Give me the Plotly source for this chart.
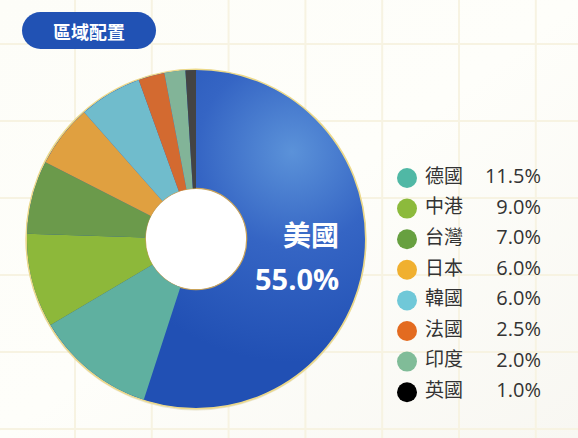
import base64
import plotly.graph_objects as go

# ---- data ----
regions = ["美國", "德國", "中港", "台灣", "日本", "韓國", "法國", "印度", "英國"]
shares = [55.0, 11.5, 9.0, 7.0, 6.0, 6.0, 2.5, 2.0, 1.0]
slice_colors = ["rgba(34,80,180,0)", "#5fb0a0", "#8db83a", "#6b9a4b", "#e0a040",
                "#70bccc", "#d36a30", "#82b498", "#444444"]
legend_colors = ["#50b8a5", "#8cba3c", "#67a040", "#f0b030", "#70c8d8",
                 "#e36b20", "#80bc98", "#000000"]
title_text = "區域配置"

W, H = 578, 438
cx, cy, R = 196, 239, 169
hole = 0.30

# ---- decorative background (grid, gradient disc, hole, button) ----
grid = ""
for i in range(8):
    gx = 75 + i * 76.8
    grid += f'<line x1="{gx:.1f}" y1="0" x2="{gx:.1f}" y2="{H}" stroke="#f7f3e2" stroke-width="2"/>'
for i in range(6):
    gy = 44 + i * 77
    grid += f'<line x1="0" y1="{gy}" x2="{W}" y2="{gy}" stroke="#f7f3e2" stroke-width="2"/>'
svg = f'''<svg xmlns="http://www.w3.org/2000/svg" width="{W}" height="{H}" viewBox="0 0 {W} {H}">
<defs>
<linearGradient id="bg" x1="0" y1="0" x2="1" y2="1">
<stop offset="0" stop-color="#fdfdf8"/><stop offset="0.5" stop-color="#fefefa"/><stop offset="1" stop-color="#f8f7f2"/>
</linearGradient>
<radialGradient id="blue" gradientUnits="userSpaceOnUse" cx="292" cy="152" r="210">
<stop offset="0" stop-color="#5b92d9"/><stop offset="0.45" stop-color="#3565c4"/><stop offset="1" stop-color="#2150b4"/>
</radialGradient>
</defs>
<rect x="0" y="0" width="{W}" height="{H}" fill="url(#bg)"/>
{grid}
<circle cx="{cx}" cy="{cy+1}" r="{R+1.5}" fill="#d8cfa8" opacity="0.5"/>
<circle cx="{cx}" cy="{cy}" r="{R+0.8}" fill="url(#blue)" stroke="#ecd98a" stroke-width="1.6"/>
<circle cx="{cx}" cy="{cy}" r="{R*hole}" fill="#ffffff" stroke="#c9a35a" stroke-width="1.2"/>
<rect x="22" y="12" width="134" height="37" rx="18.5" fill="#2152b4"/>
</svg>'''
src = "data:image/svg+xml;base64," + base64.b64encode(svg.encode("utf-8")).decode()

fig = go.Figure()

fig.add_trace(go.Pie(
    labels=regions, values=shares, sort=False, direction="clockwise", rotation=0,
    hole=hole, marker=dict(colors=slice_colors, line=dict(width=0)),
    textinfo="none", showlegend=False, hoverinfo="label+percent",
    domain=dict(x=[(cx - R) / W, (cx + R) / W], y=[(H - cy - R) / H, (H - cy + R) / H]),
))

# custom legend (excluding the leading region, which is labelled on the chart)
rows = list(range(len(regions) - 1))
row_y = [178 + i * 30.6 for i in rows]
fig.add_trace(go.Scatter(
    x=[407] * len(rows), y=row_y, mode="markers",
    marker=dict(size=20, color=legend_colors, line=dict(width=0)),
    hoverinfo="skip", showlegend=False, xaxis="x", yaxis="y"))
fig.add_trace(go.Scatter(
    x=[425] * len(rows), y=row_y, mode="text", text=regions[1:],
    textposition="middle right",
    textfont=dict(family="Noto Sans CJK TC", size=19, color="#333333"),
    hoverinfo="skip", showlegend=False))
fig.add_trace(go.Scatter(
    x=[541] * len(rows), y=row_y, mode="text",
    text=[f"{v:.1f}%" for v in shares[1:]], textposition="middle left",
    textfont=dict(family="Open Sans, Noto Sans CJK TC", size=20, color="#333333"),
    hoverinfo="skip", showlegend=False))

fig.update_layout(
    width=W, height=H, margin=dict(l=0, r=0, t=0, b=0),
    paper_bgcolor="#fdfdf8", plot_bgcolor="rgba(0,0,0,0)",
    xaxis=dict(range=[0, W], visible=False, fixedrange=True, domain=[0, 1]),
    yaxis=dict(range=[H, 0], visible=False, fixedrange=True, domain=[0, 1]),
    images=[dict(source=src, xref="paper", yref="paper", x=0, y=1, sizex=1, sizey=1,
                 xanchor="left", yanchor="top", sizing="stretch", layer="below")],
    annotations=[
        dict(text=f"<b>{title_text}</b>", x=89, y=31, xref="x", yref="y", showarrow=False,
             font=dict(family="Noto Sans CJK TC", size=18, color="white")),
        dict(text=f"<b>{regions[0]}</b>", x=341, y=234, xref="x", yref="y", showarrow=False,
             xanchor="right", font=dict(family="Noto Sans CJK TC", size=28, color="white")),
        dict(text=f"<b>{shares[0]:.1f}%</b>", x=341, y=278, xref="x", yref="y", showarrow=False,
             xanchor="right", font=dict(family="Open Sans, Noto Sans CJK TC", size=29, color="white")),
    ],
)

fig.write_html("out.html", config={"displayModeBar": False},
               post_script="document.body.style.margin='0';document.body.style.padding='0';")
